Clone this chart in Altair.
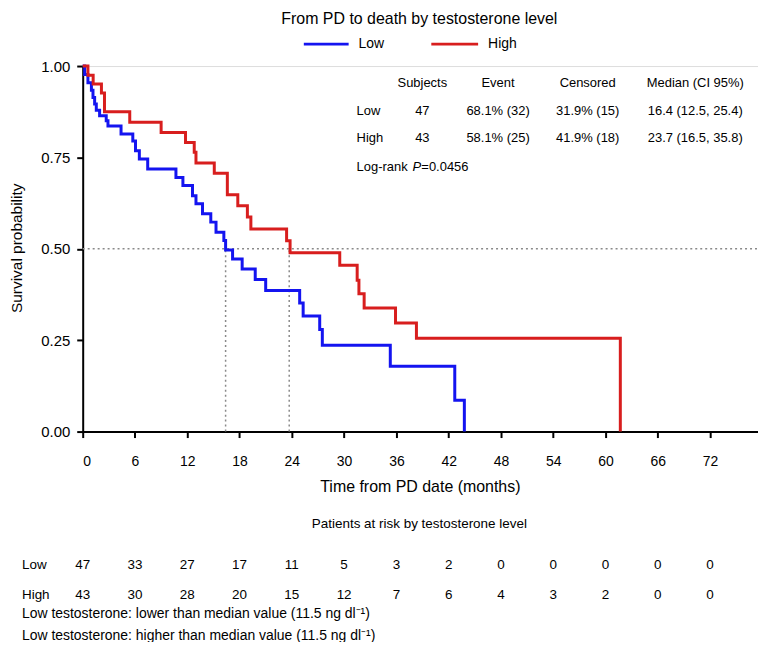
import altair as alt
import pandas as pd

# ---------------- data ----------------
low_time = [0, 0.23, 0.6, 1.0, 1.18, 1.37, 1.56, 1.94, 2.7, 2.9, 4.4, 5.75, 6.06, 6.5, 7.46,
            10.7, 11.5, 12.6, 13.0, 13.75, 14.7, 15.3, 16.2, 16.4, 17.2, 18.3, 19.8, 21.0,
            24.9, 25.3, 27.2, 27.5, 35.3, 42.7, 43.8]
low_surv = [1.0, 0.977, 0.954, 0.934, 0.914, 0.896, 0.879, 0.864, 0.850, 0.836, 0.814, 0.795,
            0.768, 0.746, 0.718, 0.695, 0.673, 0.645, 0.623, 0.596, 0.573, 0.545, 0.523, 0.497,
            0.472, 0.445, 0.416, 0.386, 0.352, 0.316, 0.279, 0.236, 0.179, 0.086, 0.0]

high_time = [0, 0.6, 1.2, 2.15, 2.5, 5.4, 9.0, 11.8, 12.8, 13.0, 15.1, 16.6, 17.8, 18.9, 19.3,
             23.4, 23.8, 29.5, 31.5, 31.7, 32.3, 35.9, 38.3, 61.7]
high_surv = [1.0, 0.975, 0.951, 0.926, 0.875, 0.846, 0.818, 0.791, 0.764, 0.735, 0.707, 0.648,
             0.618, 0.587, 0.554, 0.522, 0.489, 0.455, 0.414, 0.377, 0.338, 0.297, 0.255, 0.0]

groups = ["Low", "High"]
medians = [16.4, 23.7]

risk_times = [0, 6, 12, 18, 24, 30, 36, 42, 48, 54, 60, 66, 72]
risk_low = [47, 33, 27, 17, 11, 5, 3, 2, 0, 0, 0, 0, 0]
risk_high = [43, 30, 28, 20, 15, 12, 7, 6, 4, 3, 2, 0, 0]

stat_subjects = ["47", "43"]
stat_event = ["68.1% (32)", "58.1% (25)"]
stat_censored = ["31.9% (15)", "41.9% (18)"]
stat_median = ["16.4 (12.5, 25.4)", "23.7 (16.5, 35.8)"]

title_text = "From PD to death by testosterone level"
x_title = "Time from PD date (months)"
y_title = "Survival probability"
risk_title = "Patients at risk by testosterone level"
footnotes = ["Low testosterone: lower than median value (11.5 ng dl\u207b\u00b9)",
             "Low testosterone: higher than median value (11.5 ng dl\u207b\u00b9)"]

# ---------------- styling ----------------
BLUE = "#1414f0"
RED = "#d81e1e"
FONT = "Liberation Sans"
W, H = 678, 367
XMAX = 77.5

curves = pd.concat([
    pd.DataFrame({"time": low_time, "surv": low_surv, "group": "Low"}),
    pd.DataFrame({"time": high_time, "surv": high_surv, "group": "High"}),
])

xscale = alt.Scale(domain=[0, XMAX], nice=False, zero=False)
yscale = alt.Scale(domain=[0, 1], nice=False)

x_axis = alt.Axis(values=risk_times, title=None, grid=False, labelFontSize=14,
                  labelFont=FONT, tickSize=6, tickWidth=2, tickColor="black",
                  domainWidth=2, domainColor="black", labelPadding=17, labelColor="black")
y_axis = alt.Axis(values=[0, 0.25, 0.5, 0.75, 1.0], format=".2f", title=None, grid=False,
                  labelFontSize=15, labelFont=FONT, tickSize=6, tickWidth=2,
                  tickColor="black", domainWidth=2, domainColor="black", labelPadding=7,
                  labelColor="black")

one = pd.DataFrame({"a": [0]})

hline = alt.Chart(one).mark_rule(color="#8a8a8a", strokeDash=[2, 3], strokeWidth=1.5).encode(
    y=alt.Y(datum=0.5, scale=yscale), x=alt.value(0), x2=alt.value(W))

med_df = pd.DataFrame({"median": medians, "group": groups})
vlines = alt.Chart(med_df).mark_rule(color="#8a8a8a", strokeDash=[2, 3], strokeWidth=1.5).encode(
    x=alt.X("median:Q", scale=xscale, axis=x_axis),
    y=alt.Y(datum=0, scale=yscale),
    y2=alt.Y2(datum=0.5))

lines = alt.Chart(curves).mark_line(interpolate="step-after", strokeWidth=3).encode(
    x=alt.X("time:Q", scale=xscale, axis=x_axis),
    y=alt.Y("surv:Q", scale=yscale, axis=y_axis),
    color=alt.Color("group:N", scale=alt.Scale(domain=groups, range=[BLUE, RED]), legend=None),
)


def txt(s, x, y, size=13, align="center", style="normal", angle=0):
    kw = dict(text=s, fontSize=size, align=align, baseline="middle", font=FONT,
              color="black", fontStyle=style)
    if angle:
        kw["angle"] = angle
    return alt.Chart(one).mark_text(**kw).encode(x=alt.value(x), y=alt.value(y))


layers = [hline, vlines, lines]

# title and legend
layers.append(txt(title_text, 338, -47, size=16))
layers.append(alt.Chart(one).mark_rule(color=BLUE, strokeWidth=3).encode(
    x=alt.value(222), x2=alt.value(267), y=alt.value(-22)))
layers.append(txt("Low", 277, -22, size=14, align="left"))
layers.append(alt.Chart(one).mark_rule(color=RED, strokeWidth=3).encode(
    x=alt.value(350), x2=alt.value(397), y=alt.value(-22)))
layers.append(txt("High", 407, -22, size=14, align="left"))

# statistics table
col_x = [341, 417, 507, 615]
headers = ["Subjects", "Event", "Censored", "Median (CI 95%)"]
for h, cx in zip(headers, col_x):
    layers.append(txt(h, cx, 17))
stats = pd.DataFrame({"group": groups, "subjects": stat_subjects, "event": stat_event,
                      "censored": stat_censored, "median": stat_median})
for g, ry in zip(groups, [45, 72]):
    base = alt.Chart(stats).transform_filter(alt.datum.group == g)
    layers.append(base.mark_text(fontSize=13, align="left", baseline="middle", font=FONT,
                                 color="black").encode(text="group:N", x=alt.value(275),
                                                       y=alt.value(ry)))
    for field, cx in zip(["subjects", "event", "censored", "median"], col_x):
        layers.append(base.mark_text(fontSize=13, align="center", baseline="middle", font=FONT,
                                     color="black").encode(text=f"{field}:N", x=alt.value(cx),
                                                           y=alt.value(ry)))
layers.append(txt("Log-rank ", 275, 101, align="left"))
layers.append(txt("P", 331, 101, align="left", style="italic"))
layers.append(txt("=0.0456", 340, 101, align="left"))

# axis titles
layers.append(txt(x_title, 339, 423, size=16))
layers.append(txt(y_title, -66, 183, size=15.5, angle=270))

# risk table
layers.append(txt(risk_title, 338, 460, size=13.5))
risk = pd.DataFrame({"time": risk_times, "Low": risk_low, "High": risk_high})
for g, ry in zip(groups, [501, 531]):
    layers.append(txt(g, -61, ry, size=13.5, align="left"))
    layers.append(alt.Chart(risk).mark_text(fontSize=13.5, baseline="middle", font=FONT,
                                            color="black").encode(
        x=alt.X("time:Q", scale=xscale, axis=x_axis), y=alt.value(ry), text=f"{g}:Q"))

# footnotes
layers.append(txt(footnotes[0], -61, 550, size=14, align="left"))
layers.append(txt(footnotes[1], -61, 572, size=14, align="left"))

chart = alt.layer(*layers).properties(
    width=W, height=H,
    autosize=alt.AutoSizeParams(type="none"),
    padding={"left": 75, "top": 57, "right": 0, "bottom": 210},
).configure_view(stroke=None).configure(background="white")

chart.save("out.html", embed_options={"renderer": "svg", "actions": False})
